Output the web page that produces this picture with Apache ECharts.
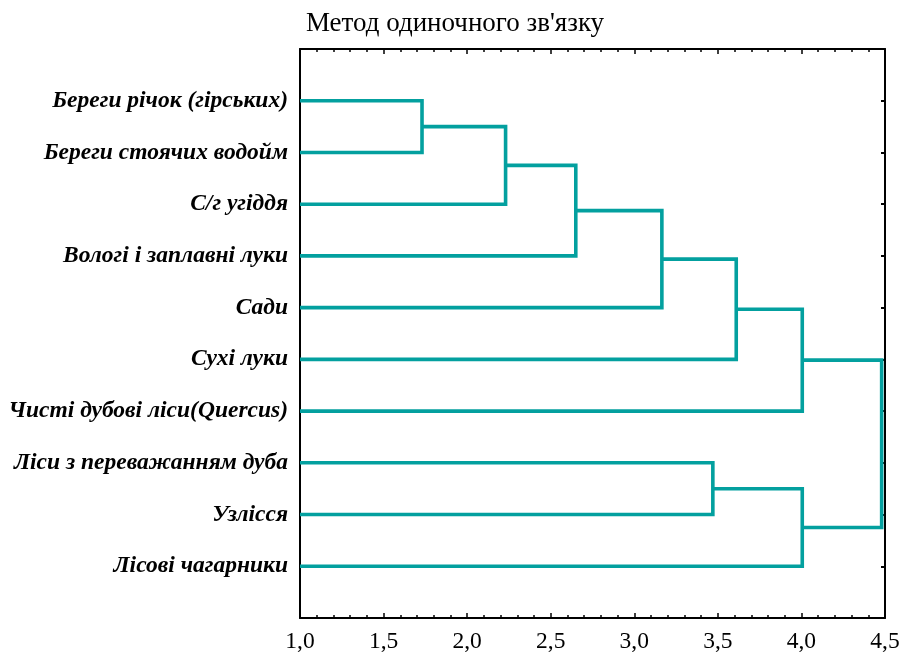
<!DOCTYPE html>
<html>
<head>
<meta charset="utf-8">
<script src="https://cdn.jsdelivr.net/npm/echarts@6/dist/echarts.min.js"></script>
<style>
  html, body { margin: 0; padding: 0; background: #fff; }
  #chart { width: 908px; height: 654px; }
</style>
</head>
<body>
<div id="chart"></div>
<script>
// Leaves of the dendrogram, top to bottom
const leaves = [
  'Береги річок (гірських)',
  'Береги стоячих водойм',
  'С/г угіддя',
  'Вологі і заплавні луки',
  'Сади',
  'Сухі луки',
  'Чисті дубові ліси(Quercus)',
  'Ліси з переважанням дуба',
  'Узлісся',
  'Лісові чагарники'
];

// Merge steps: children are leaf indices ("L#") or earlier merges ("M#")
const mergeLeft   = ['L0', 'M0', 'M1', 'M2', 'M3', 'M4', 'L7', 'M6', 'M5'];
const mergeRight  = ['L1', 'L2', 'L3', 'L4', 'L5', 'L6', 'L8', 'L9', 'M7'];
const mergeHeight = [1.73, 2.23, 2.65, 3.165, 3.61, 4.005, 3.47, 4.005, 4.48];

const xTicksMin = 1.0, xTicksMax = 4.5, xTickStep = 0.5;

// Resolve a node to its [distance, row position]
const nodes = {};
leaves.forEach((name, i) => { nodes['L' + i] = [xTicksMin, i + 1]; });
const series = [];
mergeHeight.forEach((h, i) => {
  const a = nodes[mergeLeft[i]];
  const b = nodes[mergeRight[i]];
  nodes['M' + i] = [h, (a[1] + b[1]) / 2];
  series.push({
    type: 'line',
    xAxisIndex: 0,
    yAxisIndex: 0,
    symbol: 'none',
    silent: true,
    z: 3,
    lineStyle: { color: '#03a09f', width: 3.6, join: 'miter', cap: 'butt' },
    data: [[a[0], a[1]], [h, a[1]], [h, b[1]], [b[0], b[1]]]
  });
});

const FONT = '"Liberation Serif", "Times New Roman", serif';
const axisLine = { show: true, onZero: false, lineStyle: { color: '#000', width: 2 } };

const chart = echarts.init(document.getElementById('chart'), null, { renderer: 'canvas' });
chart.setOption({
  animation: false,
  backgroundColor: '#fff',
  title: {
    text: "Метод одиночного зв'язку",
    left: 450,
    top: 5,
    textAlign: 'center',
    textStyle: { fontFamily: FONT, fontSize: 27, fontWeight: 'normal', color: '#000' }
  },
  grid: { left: 300, right: 23, top: 49, bottom: 35, containLabel: false },
  xAxis: [
    {
      type: 'value', position: 'bottom',
      min: xTicksMin, max: xTicksMax, interval: xTickStep,
      axisLine: axisLine,
      axisTick: { show: true, inside: true, length: 5, lineStyle: { color: '#000', width: 1.5 } },
      minorTick: { show: true, splitNumber: 5, length: 3, lineStyle: { color: '#000', width: 1.5 } },
      splitLine: { show: false },
      axisLabel: {
        margin: 12, fontFamily: FONT, fontSize: 23.5, color: '#000',
        formatter: v => v.toFixed(1).replace('.', ',')
      }
    },
    {
      type: 'value', position: 'top',
      min: xTicksMin, max: xTicksMax, interval: xTickStep,
      axisLine: axisLine,
      axisTick: { show: true, inside: true, length: 5, lineStyle: { color: '#000', width: 1.5 } },
      minorTick: { show: true, splitNumber: 5, length: 3, lineStyle: { color: '#000', width: 1.5 } },
      splitLine: { show: false },
      axisLabel: { show: false }
    }
  ],
  yAxis: [
    {
      type: 'value', position: 'left', inverse: true,
      min: 0, max: leaves.length + 1, interval: 1,
      axisLine: axisLine,
      axisTick: { show: true, inside: true, length: 4, lineStyle: { color: '#000', width: 2 } },
      splitLine: { show: false },
      axisLabel: {
        margin: 12, fontFamily: FONT, fontSize: 23.5, fontStyle: 'italic', fontWeight: 'bold', color: '#000',
        formatter: v => (v >= 1 && v <= leaves.length) ? leaves[v - 1] : ''
      }
    },
    {
      type: 'value', position: 'right', inverse: true,
      min: 0, max: leaves.length + 1, interval: 1,
      axisLine: axisLine,
      axisTick: { show: true, inside: true, length: 4, lineStyle: { color: '#000', width: 2 } },
      splitLine: { show: false },
      axisLabel: { show: false }
    }
  ],
  series: series
});
</script>
</body>
</html>
